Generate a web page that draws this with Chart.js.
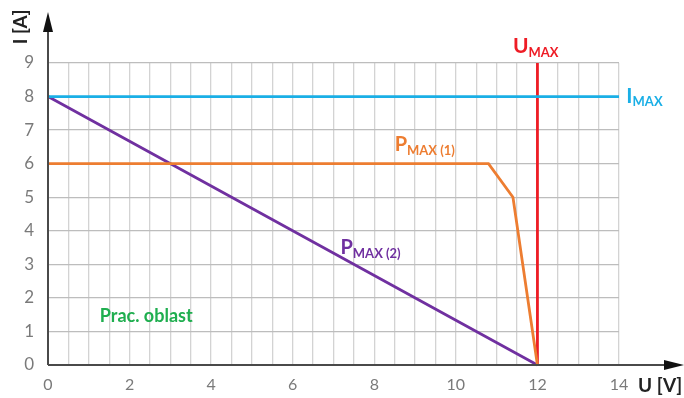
<!DOCTYPE html>
<html>
<head>
<meta charset="utf-8">
<script src="https://cdn.jsdelivr.net/npm/chart.js@4/dist/chart.umd.min.js"></script>
<style>
  html, body { margin: 0; padding: 0; background: #fff; }
  #wrap { width: 684px; height: 398px; }
</style>
</head>
<body>
<div id="wrap"><canvas id="va-chart"></canvas></div>
<script>
// curves (U in volts, I in amps)
const pmax1U = [0, 10.8, 11.4, 12];
const pmax1I = [6, 6, 5, 0];
const pmax2U = [0, 6, 12];
const pmax2I = [8, 4, 0];
const imaxU = [0, 14];
const imaxI = [8, 8];
const umaxU = [12, 12];
const umaxI = [0, 9];

const toPoints = (us, is) => us.map((u, i) => ({ x: u, y: is[i] }));

const FONT = "Lato, 'Open Sans', sans-serif";

// draws text like "P" + subscript "MAX (1)"
const subText = (ctx, x, y, main, sub, color, size) => {
  ctx.fillStyle = color;
  ctx.textBaseline = "middle";
  ctx.textAlign = "left";
  ctx.font = "bold " + size + "px " + FONT;
  ctx.fillText(main, x, y);
  let w = ctx.measureText(main).width;
  ctx.font = "bold " + Math.round(size * 0.64) + "px " + FONT;
  ctx.fillText(sub, x + w, y + size * 0.3);
};

const decorPlugin = {
  id: "decor",
  afterDraw(chart) {
    const ctx = chart.ctx;
    const xs = chart.scales.x, ys = chart.scales.y;
    const x0 = xs.getPixelForValue(0), y0 = ys.getPixelForValue(0);
    ctx.save();
    // axes with arrows
    ctx.strokeStyle = "#4a4a4a";
    ctx.fillStyle = "#111";
    ctx.lineWidth = 2;
    ctx.beginPath();
    ctx.moveTo(x0, y0);
    ctx.lineTo(x0, 20);
    ctx.moveTo(x0, y0);
    ctx.lineTo(672, y0);
    ctx.stroke();
    ctx.beginPath();
    ctx.moveTo(x0, 12); ctx.lineTo(x0 - 5, 32); ctx.lineTo(x0 + 5, 32); ctx.closePath();
    ctx.fill();
    ctx.beginPath();
    ctx.moveTo(684, y0); ctx.lineTo(664, y0 - 5); ctx.lineTo(664, y0 + 5); ctx.closePath();
    ctx.fill();

    // axis titles
    ctx.fillStyle = "#222";
    ctx.font = "bold 19px " + FONT;
    ctx.textBaseline = "middle";
    ctx.save();
    ctx.translate(21, 27);
    ctx.rotate(-Math.PI / 2);
    ctx.textAlign = "center";
    ctx.fillText("I [A]", 0, 0);
    ctx.restore();
    ctx.textAlign = "left";
    ctx.font = "bold 19px " + FONT;
    ctx.fillText("U [V]", 638, 386);

    // curve labels
    subText(ctx, xs.getPixelForValue(11.4), ys.getPixelForValue(9.5), "U", "MAX", "#ee1c25", 21);
    subText(ctx, xs.getPixelForValue(14.18), ys.getPixelForValue(8.02), "I", "MAX", "#1aafe6", 21);
    subText(ctx, xs.getPixelForValue(8.5), ys.getPixelForValue(6.57), "P", "MAX (1)", "#ed7d31", 20);
    subText(ctx, xs.getPixelForValue(7.17), ys.getPixelForValue(3.5), "P", "MAX (2)", "#7030a0", 20);
    ctx.fillStyle = "#1fae4f";
    ctx.font = "bold 18px " + FONT;
    ctx.textAlign = "left";
    ctx.fillText("Prac. oblast", xs.getPixelForValue(1.27), ys.getPixelForValue(1.44));
    ctx.restore();
  },
};

const ctx = document.getElementById("va-chart").getContext("2d");
const myChart = new Chart(ctx, {
  type: "scatter",
  data: {
    datasets: [
      { data: toPoints(imaxU, imaxI), borderColor: "#1aafe6" },
      { data: toPoints(pmax1U, pmax1I), borderColor: "#ed7d31" },
      { data: toPoints(pmax2U, pmax2I), borderColor: "#7030a0" },
      { data: toPoints(umaxU, umaxI), borderColor: "#ee1c25" },
    ].map((d) => Object.assign(d, {
      showLine: true,
      borderWidth: 2.8,
      pointRadius: 0,
      tension: 0,
      clip: false,
    })),
  },
  options: {
    responsive: true,
    maintainAspectRatio: false,
    animation: false,
    layout: { padding: { left: 0, top: 63, right: 65, bottom: 0 } },
    plugins: { legend: { display: false }, tooltip: { enabled: false } },
    scales: {
      x: {
        type: "linear",
        min: 0,
        max: 14,
        afterFit: (s) => { s.height = 33; },
        border: { display: false },
        grid: { color: "#d3d3d3", lineWidth: 1.3, drawTicks: false },
        ticks: {
          stepSize: 0.5,
          autoSkip: false,
          maxRotation: 0,
          padding: 10,
          color: "#7a7a7a",
          font: { family: FONT, size: 16 },
          callback: (v) => (v % 2 === 0 ? v : ""),
        },
      },
      y: {
        type: "linear",
        min: 0,
        max: 9,
        afterFit: (s) => { s.width = 48; },
        border: { display: false },
        grid: { color: "#bdbdbd", lineWidth: 1.3, drawTicks: false },
        ticks: {
          stepSize: 1,
          padding: 14,
          color: "#7a7a7a",
          font: { family: FONT, size: 17 },
        },
      },
    },
  },
  plugins: [decorPlugin],
});
</script>
</body>
</html>
